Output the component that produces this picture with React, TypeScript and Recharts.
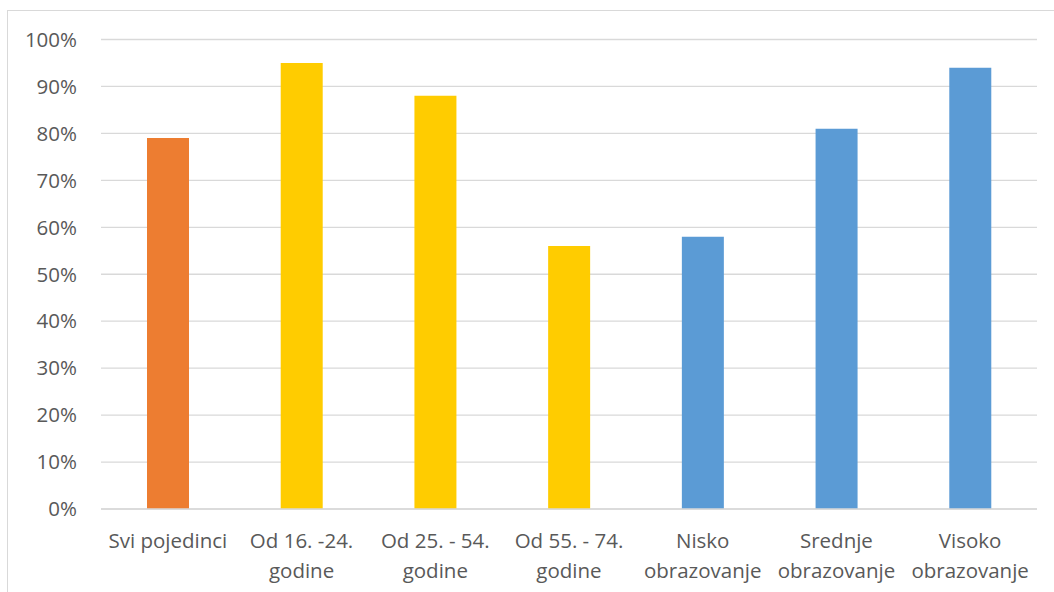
import { Bar, BarChart, CartesianGrid, Cell, XAxis, YAxis } from "recharts";

const categories = [
  "Svi pojedinci",
  "Od 16. -24.\ngodine",
  "Od 25. - 54.\ngodine",
  "Od 55. - 74.\ngodine",
  "Nisko\nobrazovanje",
  "Srednje\nobrazovanje",
  "Visoko\nobrazovanje",
];
const shares = [0.79, 0.95, 0.88, 0.56, 0.58, 0.81, 0.94];
const barColors = ["#ED7D31", "#FFCC00", "#FFCC00", "#FFCC00", "#5B9BD5", "#5B9BD5", "#5B9BD5"];
const yTicks = [0, 0.1, 0.2, 0.3, 0.4, 0.5, 0.6, 0.7, 0.8, 0.9, 1];

const data = categories.map((name, i) => ({ name, value: shares[i] }));

const FONT = "'Open Sans', sans-serif";
const TEXT = "#595959";

function CategoryTick({ x, y, payload }: any) {
  const lines = String(payload.value).split("\n");
  return (
    <text x={x} y={y} textAnchor="middle" fill={TEXT} fontSize={20.5} fontFamily={FONT}>
      {lines.map((line, i) => (
        <tspan key={i} x={x} y={y + 39 + i * 30}>
          {line}
        </tspan>
      ))}
    </text>
  );
}

export default function App() {
  return (
    <div style={{ position: "fixed", left: 0, top: 0, width: 1054, height: 592, overflow: "hidden", background: "#fff" }}>
      <div
        style={{
          position: "absolute",
          left: 7,
          top: 10,
          width: 1080,
          height: 620,
          border: "1px solid #D9D9D9",
          boxSizing: "border-box",
        }}
      />
      <div style={{ position: "absolute", left: 0, top: 0 }}>
        <BarChart width={1054} height={592} data={data} margin={{ top: 39.5, right: 17, bottom: 0, left: 21 }}>
          <CartesianGrid vertical={false} stroke="#D9D9D9" strokeWidth={1.3} />
          <XAxis
            dataKey="name"
            interval={0}
            height={83}
            tickLine={false}
            tickSize={0}
            tickMargin={0}
            axisLine={{ stroke: "#D9D9D9", strokeWidth: 1.3 }}
            tick={<CategoryTick />}
          />
          <YAxis
            domain={[0, 1]}
            ticks={yTicks}
            width={80}
            axisLine={false}
            tickLine={false}
            tickSize={0}
            tickMargin={24}
            tickFormatter={(v: number) => `${Math.round(v * 100)}%`}
            tick={{ fill: TEXT, fontSize: 20.5, fontFamily: FONT }}
          />
          <Bar dataKey="value" barSize={42} isAnimationActive={false}>
            {data.map((d, i) => (
              <Cell key={d.name} fill={barColors[i]} />
            ))}
          </Bar>
        </BarChart>
      </div>
    </div>
  );
}
